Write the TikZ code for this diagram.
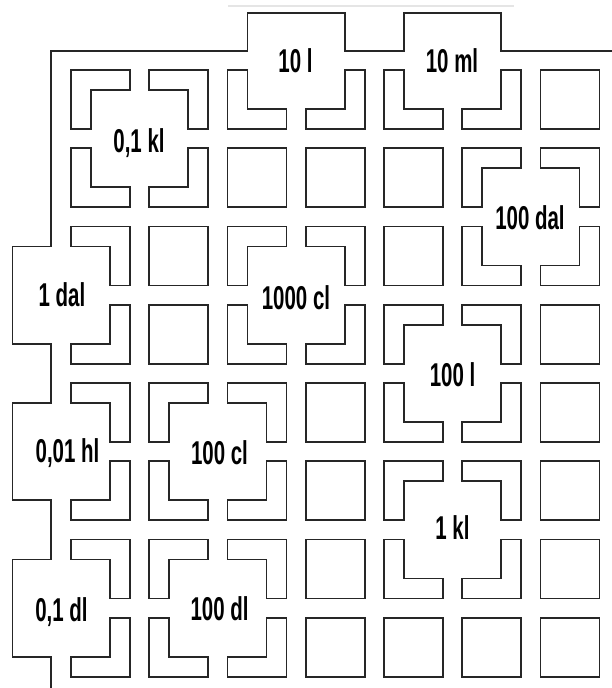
\documentclass[tikz,border=0pt]{standalone}
\usepackage{fontspec}
\setmainfont[FakeStretch=0.62]{Liberation Sans}
\begin{document}
\begin{tikzpicture}[x=1pt,y=-1pt,
  cellbox/.style={draw=black!85, line width=1.8pt, line join=miter},
  rim/.style={draw=black!85, line width=1.8pt, line join=miter},
  lab/.style={font=\fontsize{33}{36}\selectfont\bfseries, inner sep=0pt, text height=24pt, text depth=0pt, text=black}
]
\useasboundingbox (0,0) rectangle (612,688);
\fill[white] (0,0) rectangle (612,688);
% faint grey band at top
\draw[line width=2.5pt, black!10] (228,6) -- (514,6);
% outer border
\draw[rim] (612,51) -- (501.25,51) -- (501.25,13) -- (404,13) -- (404,51)
  -- (344.75,51) -- (344.75,13) -- (247.5,13) -- (247.5,51) -- (51,51)
  -- (51,246.5) -- (12.5,246.5) -- (12.5,343.75) -- (51,343.75)
  -- (51,403) -- (12.5,403) -- (12.5,500.25) -- (51,500.25)
  -- (51,559.5) -- (12.5,559.5) -- (12.5,656.75) -- (51,656.75) -- (51,688);
% full squares
\foreach \i/\j in {7/1,3/2,4/2,5/2,2/3,5/3,2/4,7/4,4/5,7/5,4/6,7/6,4/7,7/7,4/8,5/8,6/8,7/8}
  \draw[cellbox, shift={({71+78.25*(\i-1)},{70+78.25*(\j-1)})}] (0,0) rectangle (59,59);
% notch bottom-right
\foreach \i/\j in {1/1,6/2,3/3,5/4,2/5,5/6,2/7}
  \draw[cellbox, shift={({71+78.25*(\i-1)},{70+78.25*(\j-1)})}]
    (0,0) -- (59,0) -- (59,20) -- (20,20) -- (20,59) -- (0,59) -- cycle;
% notch bottom-left
\foreach \i/\j in {2/1,7/2,1/3,4/3,6/4,1/5,3/5,6/6,1/7,3/7}
  \draw[cellbox, shift={({71+78.25*(\i-1)},{70+78.25*(\j-1)})}]
    (0,0) -- (59,0) -- (59,59) -- (39,59) -- (39,20) -- (0,20) -- cycle;
% notch top-right
\foreach \i/\j in {1/2,3/1,5/1,6/3,3/4,5/5,2/6,5/7,2/8}
  \draw[cellbox, shift={({71+78.25*(\i-1)},{70+78.25*(\j-1)})}]
    (0,0) -- (20,0) -- (20,39) -- (59,39) -- (59,59) -- (0,59) -- cycle;
% notch top-left
\foreach \i/\j in {2/2,4/1,6/1,7/3,1/4,4/4,6/5,1/6,3/6,6/7,1/8,3/8}
  \draw[cellbox, shift={({71+78.25*(\i-1)},{70+78.25*(\j-1)})}]
    (39,0) -- (59,0) -- (59,59) -- (0,59) -- (0,39) -- (39,39) -- cycle;
% labels
\node[lab] (kl01)  at (139,140)   {0,1 kl};
\node[lab] (l10)   at (295.5,60.5) {10 l};
\node[lab] (ml10)  at (452,60.5)  {10 ml};
\node[lab] (dal100) at (530,217.5) {100 dal};
\node[lab] (dal1)  at (62,294.5)  {1 dal};
\node[lab] (cl1000) at (296,297)  {1000 cl};
\node[lab] (l100)  at (452.5,374.5) {100 l};
\node[lab] (cl100) at (219.5,452) {100 cl};
\node[lab] (hl001) at (67.5,450.5) {0,01 hl};
\node[lab] (kl1)   at (452.5,527.5) {1 kl};
\node[lab] (dl01)  at (61.5,609.5) {0,1 dl};
\node[lab] (dl100) at (219.5,608.5) {100 dl};
\end{tikzpicture}
\end{document}
